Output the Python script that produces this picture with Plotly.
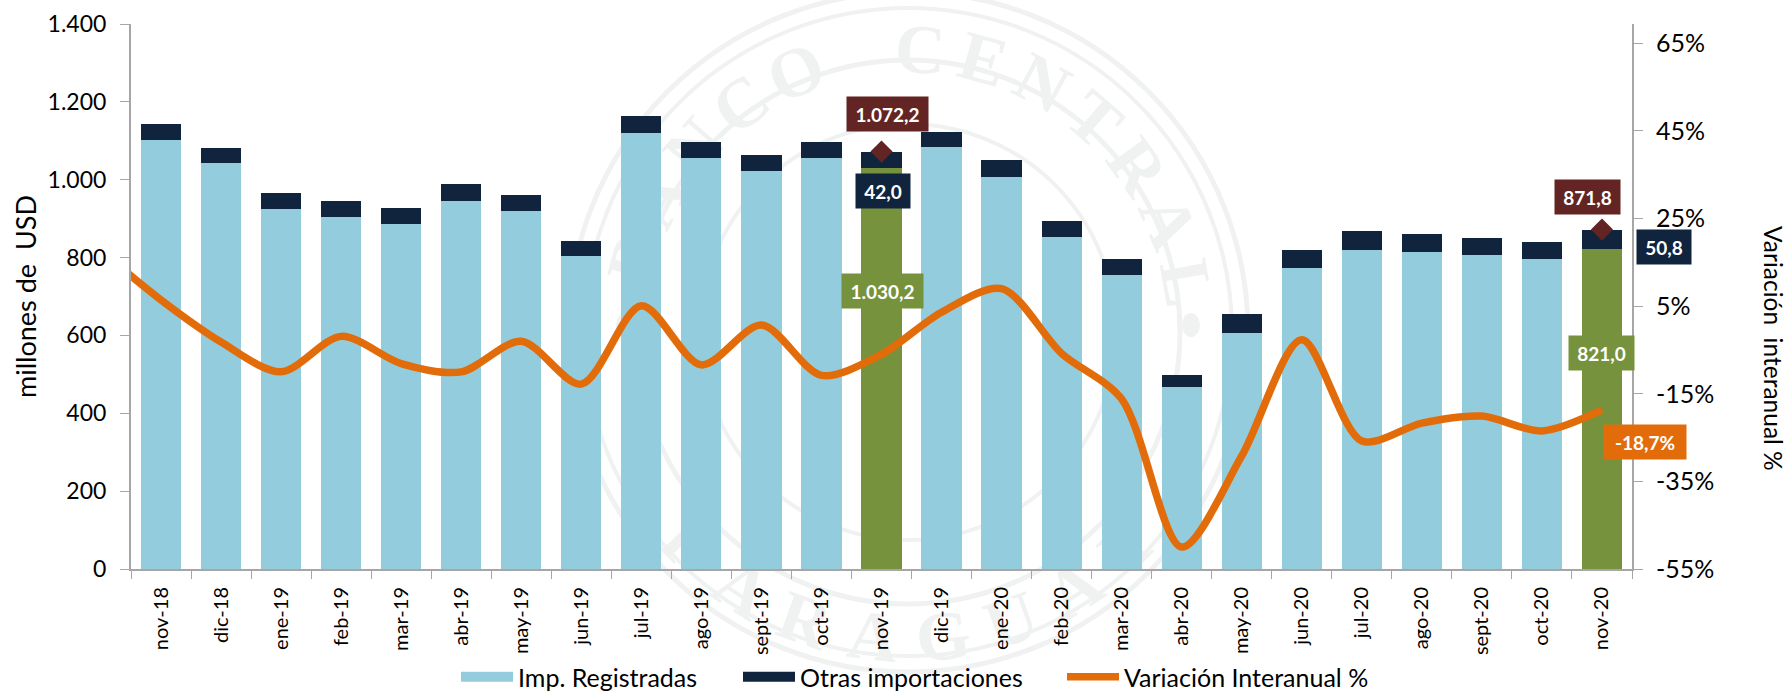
import math
import plotly.graph_objects as go

categories = ["nov-18","dic-18","ene-19","feb-19","mar-19","abr-19","may-19","jun-19","jul-19","ago-19","sept-19","oct-19",
              "nov-19","dic-19","ene-20","feb-20","mar-20","abr-20","may-20","jun-20","jul-20","ago-20","sept-20","oct-20","nov-20"]
registradas = [1103,1043,925,905,885,946,920,805,1120,1056,1022,1055,1030.2,1084,1008,853,754,467,607,772,820,814,806,796,821.0]
otras = [40,39,42,40,42,42,40,38,43,42,41,41,42.0,39,42,42,42,32,49,48,47,46,45,44,50.8]
# The curve runs in from a month before the first bar, clipped at the axis.
variacion_x = [-1,0,1,2,3,4,5,6,7,8,9,10,11,12,13,14,15,16,17,18,19,20,21,22,23,24]
variacion = [17.6,6.4,-3.2,-10,-1.9,-8.1,-10,-3,-12.8,5.1,-8.4,0.7,-10.8,-6,3.6,9,-5.8,-16.2,-50,-29.2,-2.7,-25.8,-21.7,-20.1,-23.5,-18.7]
highlight = ["nov-19","nov-20"]
left_ticks = [0,200,400,600,800,1000,1200,1400]
left_labels = ["0","200","400","600","800","1.000","1.200","1.400"]
right_ticks = [-55,-35,-15,5,25,45,65]
right_labels = ["-55%","-35%","-15%","5%","25%","45%","65%"]
seal_top = "BANCO CENTRAL"
seal_bottom = "PARAGUAY"

BLUE, NAVY, GREEN, WINE, ORANGE = "#93CDDD", "#10243E", "#76923C", "#632523", "#E36C0A"
AXIS = "#A6A6A6"
FONT = "Lato, 'Open Sans', sans-serif"
SEAL = "#EFF2F1"
W, H, L, R, T, B = 1788, 693, 131, 1632, 24, 569

def px(x): return (x - L) / (R - L)
def py(y): return (B - y) / (B - T)

totals = [a + b for a, b in zip(registradas, otras)]
idx = [categories.index(c) for c in highlight]
fig = go.Figure()
fig.add_bar(x=categories, y=registradas, name="Imp. Registradas", showlegend=False,
            marker=dict(color=[GREEN if c in highlight else BLUE for c in categories], line_width=0))
fig.add_bar(x=categories, y=otras, name="Otras importaciones", showlegend=False, marker=dict(color=NAVY, line_width=0))
fig.add_scatter(x=variacion_x, y=variacion, name="Variación Interanual %", mode="lines", xaxis="x2", yaxis="y2",
                line=dict(color=ORANGE, width=7.5, shape="spline", smoothing=0.85), cliponaxis=True, legend="legend3")
fig.add_scatter(x=[categories[i] for i in idx], y=[totals[i] for i in idx], mode="markers", showlegend=False,
                marker=dict(symbol="diamond", size=17, color=WINE))
# Legend keys: wide blocks like the reference's
fig.add_scatter(x=[None], y=[None], mode="lines", name="Imp. Registradas", line=dict(color=BLUE, width=14), legend="legend")
fig.add_scatter(x=[None], y=[None], mode="lines", name="Otras importaciones", line=dict(color=NAVY, width=14), legend="legend2")

# Watermark seal, drawn under the marks
shapes = []
CX, CY = 908, 332
for r, w in [(340, 5), (324, 4), (272, 5), (208, 4)]:
    shapes.append(dict(type="circle", xref="paper", yref="paper", layer="below",
                       x0=px(CX - r), x1=px(CX + r), y0=py(CY + r), y1=py(CY - r),
                       line=dict(color=SEAL, width=w)))
for sx in (1, -1):
    x, y = CX + sx * 283, 325
    shapes.append(dict(type="circle", xref="paper", yref="paper", layer="below", x0=px(x - 9), x1=px(x + 9),
                       y0=py(y + 12), y1=py(y - 12), fillcolor=SEAL, line_width=0))
def letters(text, a0, a1, radius, bottom):
    out = []
    n = len(text)
    for i, ch in enumerate(text):
        if ch == " ":
            continue
        a = a0 + (a1 - a0) * i / (n - 1)
        x = CX + radius * math.sin(math.radians(a))
        y = CY + radius * math.cos(math.radians(a)) if bottom else CY - radius * math.cos(math.radians(a))
        rot = -a if bottom else a
        out.append(dict(type="rect", xref="paper", yref="paper", layer="below",
                        x0=px(x - 30), x1=px(x + 30), y0=py(y + 30), y1=py(y - 30), line_width=0,
                        label=dict(text=f"<b>{ch}</b>", textangle=rot, textposition="middle center",
                                   font=dict(family="Liberation Serif, serif", size=70, color=SEAL))))
    return out
shapes += letters(seal_top, -75, 80, 291, False)
shapes += letters(seal_bottom, -46, 46, 298, True)

def box(x, y, text, color, w, xshift=0, yshift=0, yref="y"):
    fig.add_annotation(x=x, y=y, xref="x", yref=yref, text=f"<b>{text}</b>", showarrow=False, bgcolor=color,
                       width=w, height=30, borderpad=2, xshift=xshift, yshift=yshift,
                       font=dict(family=FONT, size=19, color="white"))

box("nov-19", totals[12], "1.072,2", WINE, 77, 6, 37.6)
box("nov-19", registradas[12], "42,0", NAVY, 50, 1, -23)
box("nov-19", registradas[12], "1.030,2", GREEN, 77, 1, -123)
box("nov-20", totals[24], "871,8", WINE, 61, -14, 32.6)
box("nov-20", totals[24], "50,8", NAVY, 50, 62, -17.4)
box("nov-20", registradas[24], "821,0", GREEN, 61, 0, -103.6)
box("nov-20", variacion[-1], "-18,7%", ORANGE, 78, 43, -32, yref="y2")
fig.add_annotation(x=px(1774), y=py(348), xref="paper", yref="paper", xanchor="center", yanchor="middle",
                   text="Variación\u00a0\u00a0interanual %", textangle=90,
                   showarrow=False, font=dict(family=FONT, size=24.5, color="black"))

def legend_at(x):
    return dict(orientation="h", x=x / W, xanchor="left", xref="container", y=1 - 677 / H, yanchor="middle", yref="container",
                font=dict(size=25), bgcolor="rgba(0,0,0,0)", itemwidth=52, tracegroupgap=0)

fig.update_layout(
    width=W, height=H, autosize=False, barmode="stack", bargap=0.33,
    margin=dict(l=L, r=W - R, t=T, b=H - B, autoexpand=False), paper_bgcolor="white", plot_bgcolor="rgba(0,0,0,0)",
    font=dict(family=FONT, color="black"), shapes=shapes,
    xaxis=dict(type="category", categoryorder="array", categoryarray=categories, tickson="boundaries", ticks="outside",
               ticklen=8, tickcolor=AXIS, tickwidth=1, tickangle=-90, tickfont=dict(size=20), ticklabelstandoff=8,
               showline=True, linecolor=AXIS, linewidth=2, showgrid=False, range=[-0.5, 24.5]),
    xaxis2=dict(overlaying="x", range=[-0.5, 24.5], visible=False, showgrid=False),
    yaxis=dict(range=[0, 1400], tickvals=left_ticks, ticktext=left_labels, ticks="outside", ticklen=9, tickcolor=AXIS,
               tickwidth=1, tickfont=dict(size=23), ticklabelstandoff=9, showline=True, linecolor=AXIS, linewidth=2,
               showgrid=False, zeroline=False,
               title=dict(text="millones de\u00a0\u00a0USD\u00a0\u00a0\u00a0\u00a0\u00a0", font=dict(size=27), standoff=3)),
    yaxis2=dict(overlaying="y", side="right", range=[-55, 69.4], tickvals=right_ticks, ticktext=right_labels,
                ticks="outside", ticklen=9, tickcolor=AXIS, tickwidth=1, tickfont=dict(size=25), ticklabelstandoff=8, showline=True,
                linecolor=AXIS, linewidth=2, showgrid=False, zeroline=False),
    legend=legend_at(456), legend2=legend_at(738), legend3=legend_at(1062),
)
fig.write_html("out.html", post_script="document.body.style.margin='0';", config={"displayModeBar": False})
